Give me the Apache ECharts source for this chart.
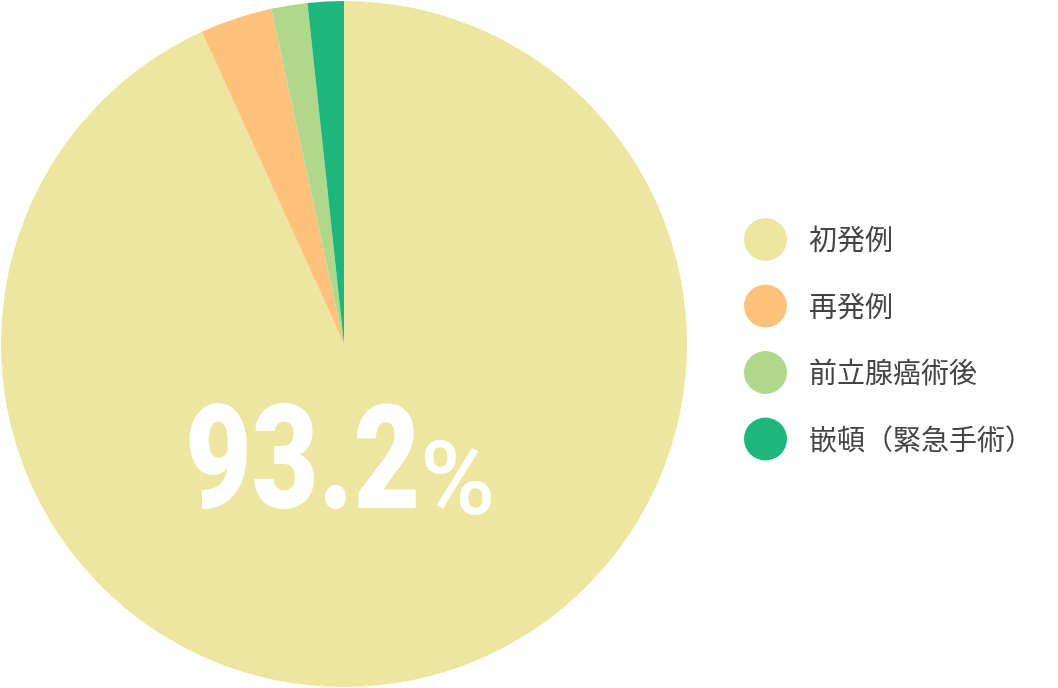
<!DOCTYPE html>
<html><head><meta charset="utf-8">
<script src="https://cdn.jsdelivr.net/npm/echarts@6/dist/echarts.min.js"></script>
<style>html,body{margin:0;padding:0;background:#fff}#c{width:1058px;height:688px}</style>
</head><body><div id="c"></div>
<script>
const categories = ['初発例', '再発例', '前立腺癌術後', '嵌頓（緊急手術）'];
const values = [93.2, 3.4, 1.7, 1.7];
const colors = ['#ECE6A0', '#FEC27D', '#B0D88C', '#1DB67D'];
const mainLabel = '93.2';

const chart = echarts.init(document.getElementById('c'), null, {renderer: 'canvas'});
chart.setOption({
  animation: false,
  color: colors,
  legend: {
    orient: 'vertical',
    left: 744,
    top: 218,
    padding: 0,
    icon: 'circle',
    itemWidth: 43,
    itemHeight: 43,
    itemGap: 23.5,
    textStyle: {fontFamily: 'Noto Sans CJK JP', fontSize: 28, color: '#444', padding: [0, 0, 0, 17]},
    data: categories
  },
  series: [{
    type: 'pie',
    center: [344, 344],
    radius: [0, 343],
    startAngle: 90,
    clockwise: true,
    label: {show: false},
    labelLine: {show: false},
    emphasis: {disabled: true},
    itemStyle: {borderWidth: 0},
    data: categories.map((n, i) => ({name: n, value: values[i]}))
  }],
  graphic: [
    {type: 'text', z: 100, x: 185, y: 400, scaleX: 0.8, style: {text: mainLabel, fill: '#fff', fontFamily: 'Roboto', fontWeight: 900, fontSize: 144, verticalAlign: 'top'}},
    {type: 'text', z: 100, x: 420, y: 437, style: {text: '%', fill: '#fff', fontFamily: 'Roboto', fontWeight: 500, fontSize: 102, verticalAlign: 'top'}}
  ]
});
</script></body></html>
